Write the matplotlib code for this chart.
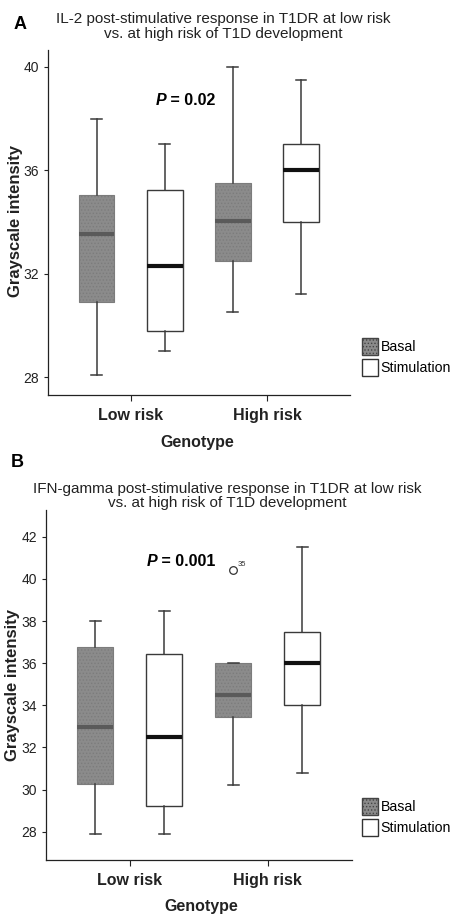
import matplotlib
matplotlib.use('Agg')
import matplotlib.pyplot as plt
from matplotlib.patches import Patch

plt.rcParams['font.family'] = ['Liberation Sans', 'DejaVu Sans']
plt.rcParams['hatch.color'] = '#666666'
plt.rcParams['hatch.linewidth'] = 0.6

groups = ['Low risk', 'High risk']
series = ['Basal', 'Stimulation']

# IL-2 (panel A): per box, order = low basal, low stim, high basal, high stim
il2_whislo = [28.1, 29.0, 30.5, 31.2]
il2_q1 = [30.9, 29.8, 32.5, 34.0]
il2_med = [33.55, 32.3, 34.05, 36.0]
il2_q3 = [35.05, 35.25, 35.5, 37.0]
il2_whishi = [38.0, 37.0, 40.0, 39.5]
il2_fliers = [[], [], [], []]

# IFN-gamma (panel B)
ifn_whislo = [27.9, 27.9, 30.2, 30.8]
ifn_q1 = [30.25, 29.2, 33.45, 34.0]
ifn_med = [32.95, 32.5, 34.5, 36.0]
ifn_q3 = [36.75, 36.45, 36.0, 37.5]
ifn_whishi = [38.0, 38.5, 36.0, 41.5]
ifn_fliers = [[], [], [40.42], []]
ifn_flier_label = '35'

BASAL = '#8b8b8b'
LINE = '#3a3a3a'


def draw_panel(ax, whislo, q1, med, q3, whishi, fliers, ylim, yticks):
    stats = []
    for i in range(4):
        stats.append(dict(whislo=whislo[i], q1=q1[i], med=med[i], q3=q3[i],
                          whishi=whishi[i], fliers=fliers[i]))
    pos = [1 - 0.25, 1 + 0.25, 2 - 0.25, 2 + 0.25]
    bp = ax.bxp(stats, positions=pos, widths=0.26, patch_artist=True,
                showfliers=True, capwidths=0.08,
                whiskerprops=dict(color=LINE, lw=1.1),
                capprops=dict(color=LINE, lw=1.1),
                flierprops=dict(marker='o', mfc='white', mec='#333333', ms=5.5, mew=0.9))
    for i, box in enumerate(bp['boxes']):
        if i % 2 == 0:
            box.set_facecolor(BASAL)
            box.set_edgecolor('#7c7c7c')
            box.set_hatch('.....')
            box.set_linewidth(0.8)
        else:
            box.set_facecolor('white')
            box.set_edgecolor(LINE)
            box.set_linewidth(1.0)
    for i, m in enumerate(bp['medians']):
        if i % 2 == 0:
            m.set_color('#5a5a5a')
        else:
            m.set_color('#111111')
        m.set_linewidth(3.0)
    ax.set_xlim(0.39, 2.61)
    ax.set_ylim(*ylim)
    ax.set_yticks(yticks)
    ax.set_xticks([1, 2])
    ax.set_xticklabels(groups, fontsize=11.5, fontweight='bold')
    ax.tick_params(axis='y', labelsize=10, length=3, width=0.8, pad=3, colors='#222222')
    ax.tick_params(axis='x', length=4, width=0.8, pad=5, colors='#222222')
    for s in ['top', 'right']:
        ax.spines[s].set_visible(False)
    for s in ['left', 'bottom']:
        ax.spines[s].set_linewidth(0.9)
        ax.spines[s].set_color('#222222')
    return bp


fig = plt.figure(figsize=(4.62, 9.15), dpi=100)

axA = fig.add_axes([0.1032, 0.5683, 0.6544, 0.3771])
draw_panel(axA, il2_whislo, il2_q1, il2_med, il2_q3, il2_whishi, il2_fliers,
           (27.31, 40.65), [28, 32, 36, 40])
tp = axA.text(1.18, 38.7, 'P', fontsize=11.5, fontweight='bold', style='italic',
              va='center')
axA.annotate(' = 0.02', xy=(1, 0), xycoords=tp, va='bottom', fontsize=11.5,
             fontweight='bold')

axB = fig.add_axes([0.0989, 0.0601, 0.6623, 0.3825])
draw_panel(axB, ifn_whislo, ifn_q1, ifn_med, ifn_q3, ifn_whishi, ifn_fliers,
           (26.66, 43.27), [28, 30, 32, 34, 36, 38, 40, 42])
tp = axB.text(1.12, 40.81, 'P', fontsize=11.5, fontweight='bold', style='italic',
              va='center')
axB.annotate(' = 0.001', xy=(1, 0), xycoords=tp, va='bottom', fontsize=11.5,
             fontweight='bold')
axB.annotate(ifn_flier_label, xy=(1.75, ifn_fliers[2][0]), xytext=(3, 3),
             textcoords='offset points', fontsize=5.5, color='#333333')

# panel letters, titles, axis labels
fig.text(0.043, 0.9727, 'A', fontsize=13, fontweight='bold', ha='center', va='center')
fig.text(0.037, 0.495, 'B', fontsize=13, fontweight='bold', ha='center', va='center')
fig.text(0.4827, 0.9708, 'IL-2 post-stimulative response in T1DR at low risk\n'
         'vs. at high risk of T1D development', fontsize=11, ha='center',
         va='center', linespacing=1.05, color='#222222')
fig.text(0.4913, 0.4579, 'IFN-gamma post-stimulative response in T1DR at low risk\n'
         'vs. at high risk of T1D development', fontsize=11, ha='center',
         va='center', linespacing=1.05, color='#222222')

for x, y in [(15.5, 221), (12.5, 685)]:
    fig.text(x / 462, 1 - y / 915, 'Grayscale intensity', rotation=90,
             fontsize=12, fontweight='bold', ha='center', va='center', color='#222222')
for x, y in [(197, 442), (201, 906)]:
    fig.text(x / 462, 1 - y / 915, 'Genotype', fontsize=11.5, fontweight='bold',
             ha='center', va='center', color='#222222')

handles = [Patch(facecolor=BASAL, edgecolor='#444444', hatch='.....', lw=1.0),
           Patch(facecolor='white', edgecolor='#333333', lw=1.0)]
for y in [338, 798]:
    fig.legend(handles, series, loc='upper left',
               bbox_to_anchor=(362 / 462, 1 - y / 915), frameon=False,
               borderpad=0, borderaxespad=0, handlelength=1.15, handleheight=1.5,
               handletextpad=0.15, labelspacing=0.25,
               prop=dict(size=10.2))

fig.savefig('out.png', dpi=100)
